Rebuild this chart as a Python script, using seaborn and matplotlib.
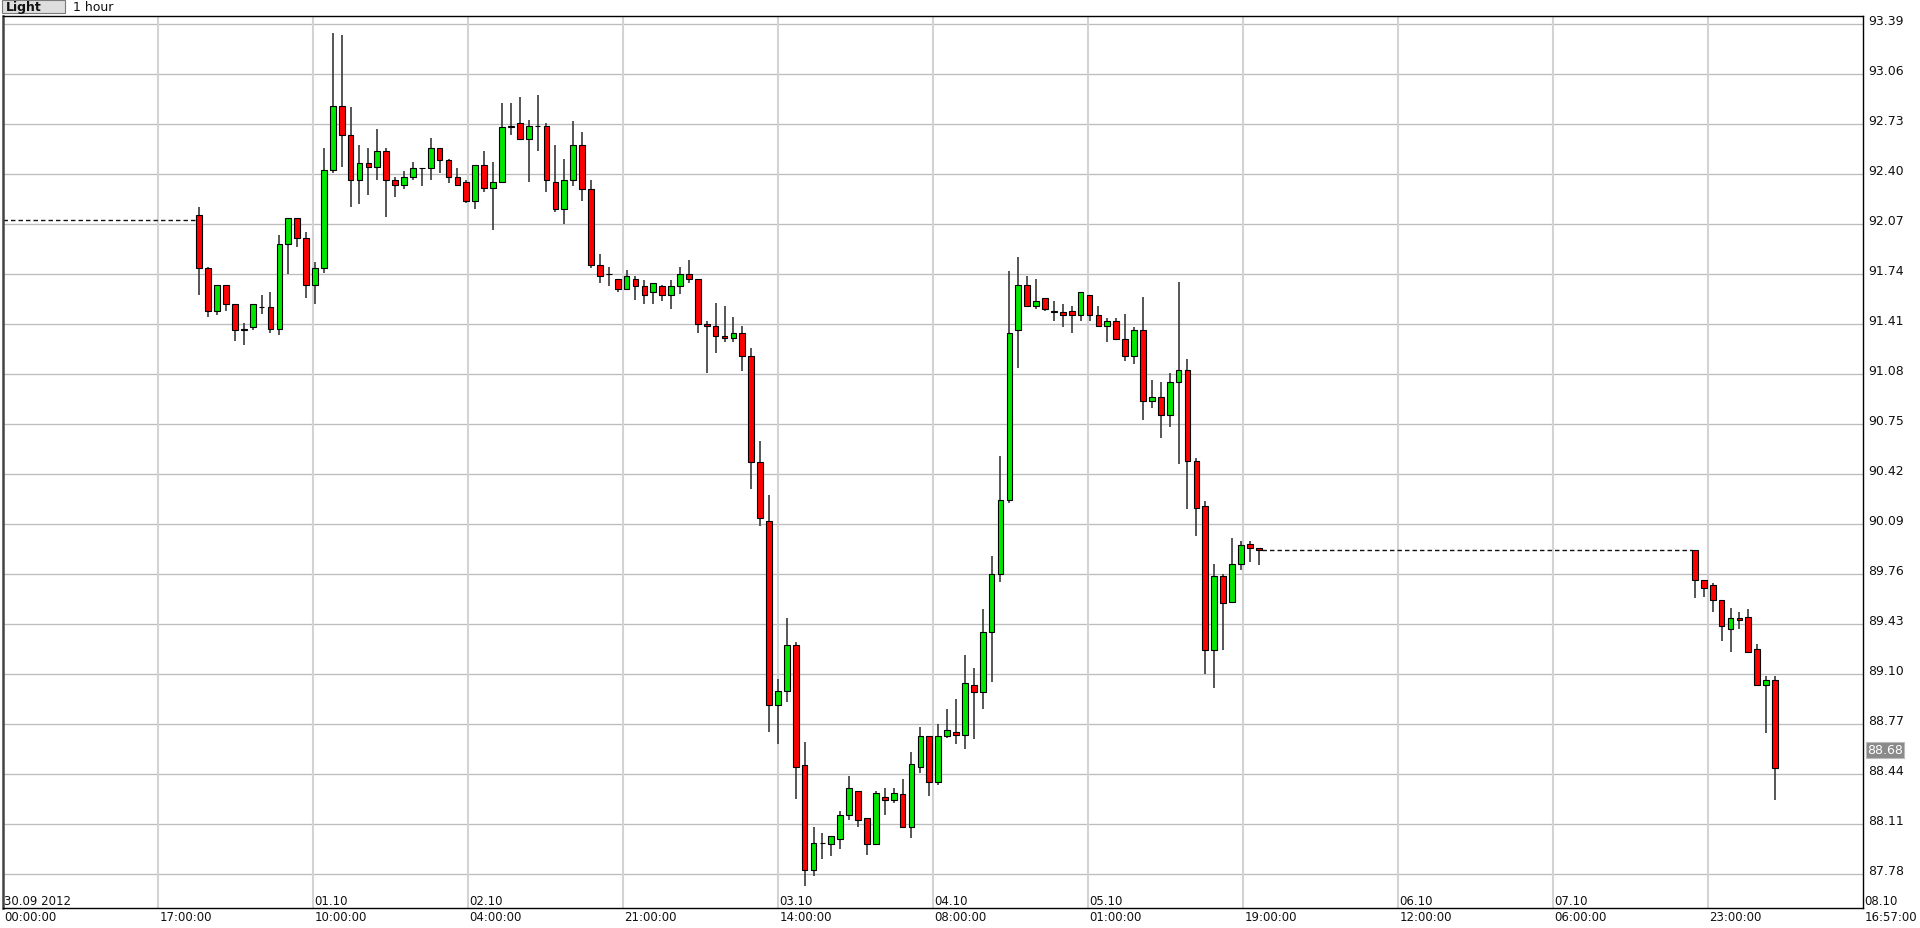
import matplotlib
matplotlib.use("Agg")
import matplotlib.pyplot as plt
import matplotlib.transforms as mtransforms
from matplotlib.patches import Rectangle
import seaborn as sns
import numpy as np
import pandas as pd

# ---------------- data ----------------
# hours counted from 30.09.2012 00:00 (1 hour candles)
candle_hours = list(range(21, 141)) + list(range(189, 199))

opens = [92.13, 91.78, 91.50, 91.67, 91.54, 91.37, 91.39, 91.52, 91.52, 91.38,
         91.94, 92.11, 91.98, 91.67, 91.78, 92.43, 92.85, 92.66, 92.36, 92.47,
         92.45, 92.55, 92.36, 92.33, 92.38, 92.44, 92.44, 92.57, 92.49, 92.38,
         92.35, 92.22, 92.46, 92.31, 92.35, 92.71, 92.74, 92.63, 92.72, 92.72,
         92.35, 92.17, 92.36, 92.59, 92.30, 91.80, 91.74, 91.71, 91.64, 91.71,
         91.66, 91.62, 91.66, 91.60, 91.66, 91.74, 91.71, 91.41, 91.40, 91.33,
         91.32, 91.35, 91.20, 90.50, 90.11, 88.90, 88.99, 89.29, 88.50, 87.81,
         87.99, 87.98, 88.01, 88.17, 88.33, 88.15, 87.98, 88.29, 88.27, 88.31,
         88.09, 88.49, 88.69, 88.39, 88.69, 88.72, 88.70, 89.03, 88.98, 89.38,
         89.76, 90.25, 91.37, 91.67, 91.53, 91.58, 91.49, 91.49, 91.50, 91.47,
         91.60, 91.47, 91.40, 91.43, 91.31, 91.20, 91.37, 90.90, 90.93, 90.81,
         91.03, 91.11, 90.51, 90.21, 89.26, 89.75, 89.58, 89.83, 89.96, 89.93,
         89.92, 89.72, 89.69, 89.59, 89.40, 89.47, 89.48, 89.27, 89.03, 89.06]

highs = [92.18, 91.79, 91.67, 91.67, 91.54, 91.42, 91.54, 91.60, 91.62, 92.00,
         92.11, 92.11, 92.02, 91.82, 92.57, 93.33, 93.32, 92.84, 92.59, 92.57,
         92.70, 92.57, 92.38, 92.42, 92.48, 92.44, 92.64, 92.57, 92.50, 92.44,
         92.36, 92.46, 92.55, 92.48, 92.87, 92.87, 92.91, 92.76, 92.92, 92.74,
         92.59, 92.50, 92.75, 92.68, 92.36, 91.87, 91.79, 91.71, 91.77, 91.73,
         91.70, 91.68, 91.67, 91.70, 91.79, 91.83, 91.71, 91.43, 91.55, 91.53,
         91.46, 91.40, 91.25, 90.64, 90.28, 89.07, 89.47, 89.31, 88.65, 88.09,
         88.05, 88.03, 88.20, 88.43, 88.33, 88.15, 88.33, 88.35, 88.35, 88.41,
         88.59, 88.75, 88.69, 88.77, 88.87, 88.94, 89.23, 89.14, 89.53, 89.88,
         90.54, 91.76, 91.85, 91.73, 91.71, 91.58, 91.56, 91.54, 91.53, 91.62,
         91.60, 91.53, 91.45, 91.45, 91.48, 91.39, 91.59, 91.04, 91.03, 91.09,
         91.69, 91.18, 90.53, 90.24, 89.83, 89.76, 90.00, 89.98, 89.98, 89.93,
         89.92, 89.72, 89.70, 89.59, 89.54, 89.51, 89.53, 89.30, 89.09, 89.09]

lows = [91.60, 91.46, 91.47, 91.50, 91.30, 91.27, 91.37, 91.48, 91.35, 91.34,
        91.74, 91.92, 91.58, 91.54, 91.75, 92.41, 92.45, 92.18, 92.20, 92.26,
        92.36, 92.12, 92.25, 92.30, 92.36, 92.32, 92.36, 92.41, 92.34, 92.33,
        92.21, 92.17, 92.28, 92.03, 92.34, 92.66, 92.63, 92.35, 92.55, 92.28,
        92.15, 92.07, 92.32, 92.22, 91.78, 91.68, 91.66, 91.62, 91.64, 91.57,
        91.54, 91.54, 91.56, 91.51, 91.61, 91.68, 91.35, 91.09, 91.22, 91.29,
        91.29, 91.10, 90.32, 90.08, 88.72, 88.64, 88.92, 88.28, 87.70, 87.77,
        87.88, 87.90, 87.95, 88.14, 88.09, 87.91, 87.98, 88.17, 88.25, 88.09,
        88.02, 88.45, 88.30, 88.37, 88.68, 88.64, 88.61, 88.67, 88.87, 89.05,
        89.71, 90.23, 91.12, 91.52, 91.51, 91.50, 91.43, 91.39, 91.35, 91.43,
        91.43, 91.39, 91.29, 91.31, 91.17, 91.15, 90.78, 90.86, 90.66, 90.73,
        90.49, 90.19, 90.01, 89.10, 89.01, 89.26, 89.58, 89.79, 89.84, 89.82,
        89.60, 89.61, 89.51, 89.32, 89.25, 89.40, 89.25, 89.02, 88.71, 88.27]

closes = [91.78, 91.50, 91.67, 91.54, 91.37, 91.38, 91.54, 91.52, 91.38, 91.94,
          92.11, 91.98, 91.67, 91.78, 92.43, 92.85, 92.66, 92.36, 92.47, 92.45,
          92.55, 92.36, 92.33, 92.38, 92.44, 92.44, 92.57, 92.49, 92.38, 92.33,
          92.22, 92.46, 92.31, 92.35, 92.71, 92.72, 92.63, 92.72, 92.72, 92.36,
          92.17, 92.36, 92.59, 92.30, 91.80, 91.73, 91.74, 91.64, 91.73, 91.66,
          91.60, 91.68, 91.60, 91.66, 91.74, 91.71, 91.41, 91.40, 91.33, 91.32,
          91.35, 91.20, 90.50, 90.13, 88.90, 88.99, 89.29, 88.49, 87.81, 87.99,
          87.99, 88.03, 88.17, 88.35, 88.14, 87.98, 88.32, 88.27, 88.32, 88.09,
          88.51, 88.69, 88.39, 88.69, 88.73, 88.70, 89.04, 88.98, 89.38, 89.76,
          90.25, 91.35, 91.67, 91.53, 91.56, 91.51, 91.50, 91.47, 91.47, 91.62,
          91.47, 91.40, 91.43, 91.31, 91.20, 91.37, 90.90, 90.93, 90.81, 91.03,
          91.11, 90.51, 90.20, 89.26, 89.75, 89.57, 89.83, 89.95, 89.93, 89.92,
          89.72, 89.67, 89.59, 89.42, 89.47, 89.46, 89.25, 89.03, 89.06, 88.48]

prev_close = 92.10
last_price = 88.68
price_levels = [87.78, 88.11, 88.44, 88.77, 89.10, 89.43, 89.76, 90.09, 90.42,
                90.75, 91.08, 91.41, 91.74, 92.07, 92.40, 92.73, 93.06, 93.39]
price_labels = ["87.78", "88.11", "88.44", "88.77", "89.10", "89.43", "89.76",
                "90.09", "90.42", "90.75", "91.08", "91.41", "91.74", "92.07",
                "92.40", "92.73", "93.06", "93.39"]
time_labels = ["00:00:00", "17:00:00", "10:00:00", "04:00:00", "21:00:00",
               "14:00:00", "08:00:00", "01:00:00", "19:00:00", "12:00:00",
               "06:00:00", "23:00:00", "16:57:00"]
date_labels = ["30.09 2012", "01.10", "02.10", "03.10", "04.10", "05.10",
               "06.10", "07.10", "08.10"]
date_label_columns = [0, 2, 3, 5, 6, 7, 9, 10, 12]

df = pd.DataFrame({"t": candle_hours, "open": opens, "high": highs,
                   "low": lows, "close": closes})
df["up"] = df["close"] >= df["open"]

# ---------------- figure ----------------
sns.set_theme(style="white")
plt.rcParams["font.family"] = ["DejaVu Sans"]

W, H = 1920, 929
fig = plt.figure(figsize=(W / 100, H / 100), dpi=100)
fig.patch.set_facecolor("white")
L, R, T, B = 3.3, 1863.0, 17.0, 909.0
ax = fig.add_axes([L / W, 1 - B / H, (R - L) / W, (B - T) / H])
ax.set_facecolor("white")
x0, x1 = -1.01, 207.88
ax.set_xlim(x0, x1)
ax.set_ylim(87.558, 93.443)

# grid
for lvl in price_levels:
    ax.axhline(lvl, color="#bdbdbd", lw=0.95, zorder=0)
ncol = 12
for k in range(1, ncol):
    ax.axvline(x0 + k * (x1 - x0) / ncol, color="#d3d3d3", lw=1.5, zorder=0)

# dashed connectors (gaps without trading)
dash = (0, (3.2, 2.2))
first = df.iloc[0]
ax.plot([x0, first["t"] - 0.45], [prev_close, prev_close], color="#111111",
        lw=1.0, ls=dash, zorder=1)
gap_idx = int(np.argmax(np.diff(df["t"].values) > 1))
a, b = df.iloc[gap_idx], df.iloc[gap_idx + 1]
ax.plot([a["t"] + 0.35, b["t"] - 0.35], [a["close"], a["close"]], color="#111111",
        lw=1.0, ls=dash, zorder=1)

# wicks
ax.vlines(df["t"], df["low"], df["high"], color="#3a3a3a", lw=1.2, zorder=2)
# bodies
body_w = 0.64
colors = np.where(df["up"], "#00e600", "#ff0000")
bottoms = np.minimum(df["open"], df["close"])
heights = (df["close"] - df["open"]).abs()
ax.bar(df["t"], heights, bottom=bottoms, width=body_w, color=colors,
       edgecolor="black", linewidth=0.8, zorder=3)

# axes frame
for s in ax.spines.values():
    s.set_color("black")
    s.set_linewidth(1.0)
ax.spines["left"].set_color("#444444")
ax.spines["left"].set_linewidth(1.8)
ax.set_xticks([])
ax.set_yticks([])

# right price labels
off_up = mtransforms.ScaledTranslation(0, 3.5 / 100, fig.dpi_scale_trans)
lab_tr = mtransforms.blended_transform_factory(ax.transAxes, ax.transData) + off_up
xr = (1868 - L) / (R - L)
for lvl, lab in zip(price_levels, price_labels):
    ax.text(xr, lvl, lab, transform=lab_tr, ha="left", va="center",
            fontsize=9, color="#111111", clip_on=False)
off_dn = mtransforms.ScaledTranslation(0, -12 / 100, fig.dpi_scale_trans)
last_tr = mtransforms.blended_transform_factory(ax.transAxes, ax.transData) + off_dn
ax.text(xr - 0.0004, last_price, f"{last_price:.2f}", transform=last_tr,
        ha="left", va="center", fontsize=9, color="white", clip_on=False,
        bbox=dict(boxstyle="square,pad=0.1", facecolor="#8a8a8a",
                  edgecolor="#bbbbbb", lw=0.8))

# bottom labels
y_time = (B - 918) / (B - T)
y_date = (B - 902) / (B - T)
for k, lab in enumerate(time_labels):
    ax.text(k / ncol + 1.2 / (R - L), y_time, lab, transform=ax.transAxes,
            ha="left", va="center", fontsize=8.5,
            color="#111111", clip_on=False)
for k, lab in zip(date_label_columns, date_labels):
    ax.text(k / ncol + 1.2 / (R - L), y_date, lab, transform=ax.transAxes,
            ha="left", va="center", fontsize=8.5,
            color="#111111", clip_on=False)

# header
fig.patches.append(Rectangle((2 / W, 1 - 14 / H), 63 / W, 13 / H,
                             transform=fig.transFigure, facecolor="#dedede",
                             edgecolor="#7a7a7a", lw=0.8))
fig.text(6 / W, 1 - 7.5 / H, "Light", ha="left", va="center", fontsize=9,
         weight="bold", color="#111111")
fig.text(73 / W, 1 - 7.5 / H, "1 hour", ha="left", va="center", fontsize=9,
         color="#111111")

fig.savefig("out.png", dpi=100, facecolor="white")
